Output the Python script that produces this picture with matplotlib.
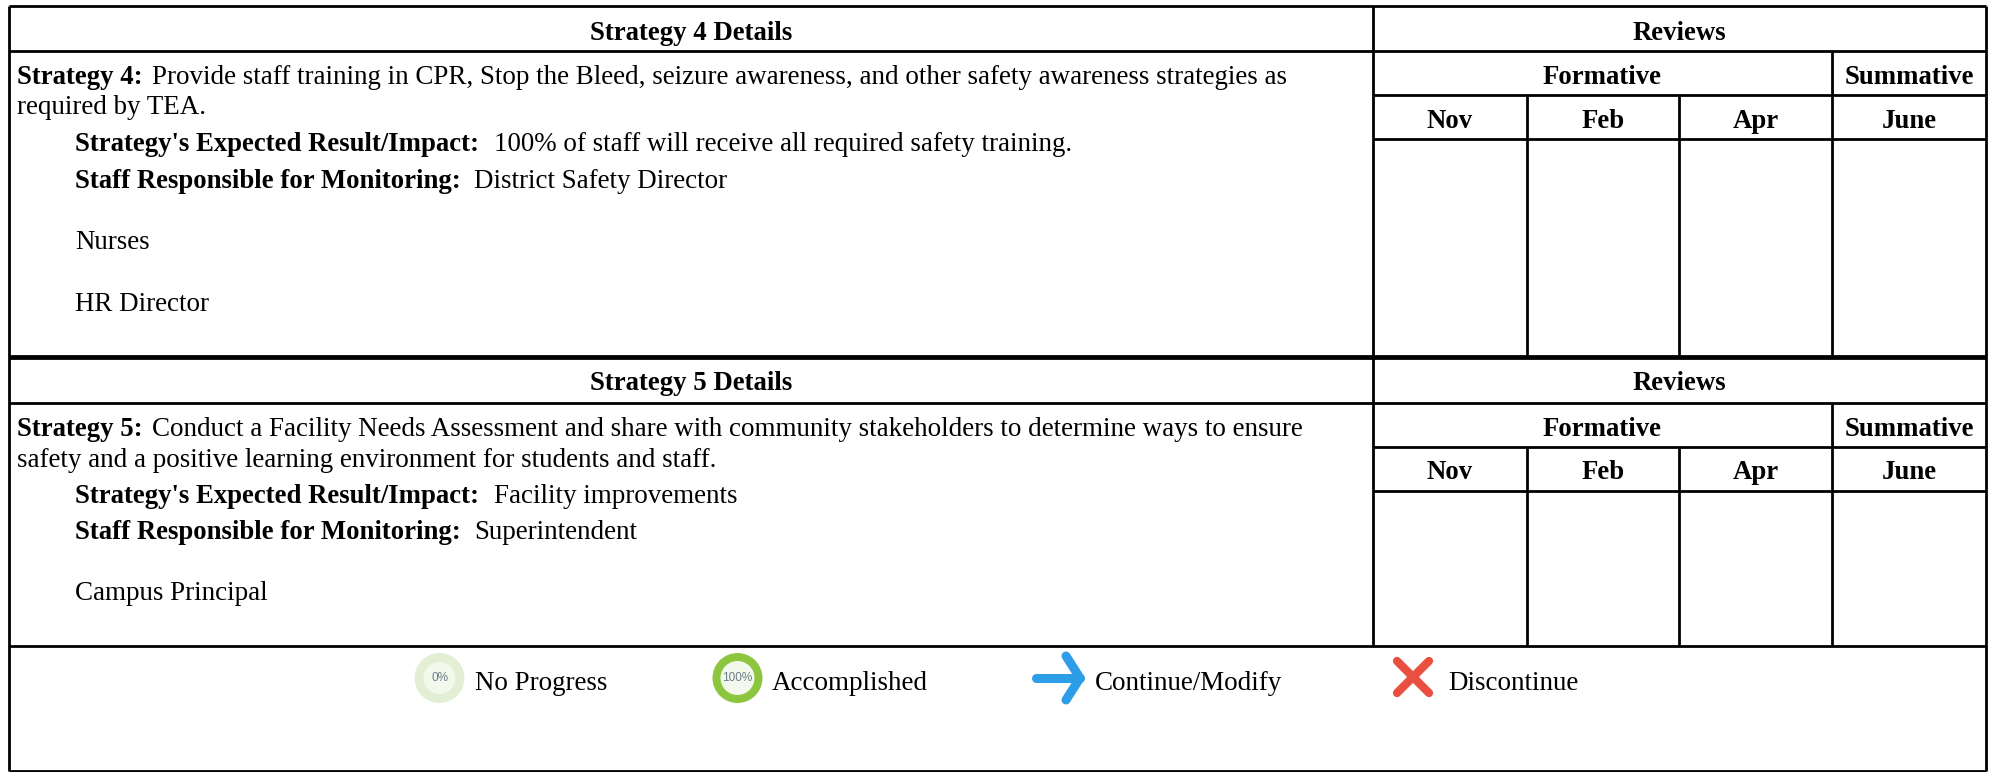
import matplotlib
matplotlib.use("Agg")
import matplotlib.pyplot as plt
from matplotlib.patches import Circle

# table text
review_title = "Reviews"
formative = "Formative"
summative = "Summative"
months = ["Nov", "Feb", "Apr", "June"]
detail_titles = ["Strategy 4 Details", "Strategy 5 Details"]
strategy_labels = ["Strategy 4:", "Strategy 5:"]
strategy_first = [
    "Provide staff training in CPR, Stop the Bleed, seizure awareness, and other safety awareness strategies as",
    "Conduct a Facility Needs Assessment and share with community stakeholders to determine ways to ensure",
]
strategy_second = ["required by TEA.", "safety and a positive learning environment for students and staff."]
impact_label = "Strategy's Expected Result/Impact:"
impacts = ["100% of staff will receive all required safety training.", "Facility improvements"]
staff_label = "Staff Responsible for Monitoring:"
staff_first = ["District Safety Director", "Superintendent"]
staff_rest = [["Nurses", "HR Director"], ["Campus Principal"]]
legend_labels = ["No Progress", "Accomplished", "Continue/Modify", "Discontinue"]
ring_labels = ["0%", "100%"]

W, H = 1995, 772
FS_BOLD = 19.25
FS_BODY = 19.45
FS_LEGEND = 19.45
plt.rcParams["font.family"] = ["Liberation Serif", "DejaVu Serif"]

fig = plt.figure(figsize=(W / 100, H / 100), dpi=100)
ax = fig.add_axes([0, 0, 1, 1])
ax.set_xlim(0, W)
ax.set_ylim(H, 0)
ax.axis("off")

X = [9, 1373, 1527, 1679, 1832, 1986]
LW = 2.0


def hline(y, x0=X[0], x1=X[5], lw=LW):
    ax.plot([x0, x1], [y, y], color="black", lw=lw, solid_capstyle="butt")


def vline(x, y0, y1, lw=LW):
    ax.plot([x, x], [y0, y1], color="black", lw=lw, solid_capstyle="butt")


def put(x, y, s, bold=False, ha="left", size=None):
    if size is None:
        size = FS_BOLD if bold else FS_BODY
    return ax.text(x, y, s, fontsize=size, ha=ha, va="baseline", color="black",
                   fontweight="bold" if bold else "normal")


def section(i, top, bottom, head_y, body_y):
    r1, r2, r3 = top + 45, top + 89, top + 133
    hline(top)
    hline(r1)
    hline(r2, X[1], X[5])
    hline(r3, X[1], X[5])
    hline(bottom)
    vline(X[1], top, bottom)
    vline(X[2], r2, bottom)
    vline(X[3], r2, bottom)
    vline(X[4], r1, bottom)
    put((X[0] + X[1]) / 2, top + head_y[0], detail_titles[i], bold=True, ha="center")
    put((X[1] + X[5]) / 2, top + head_y[0], review_title, bold=True, ha="center")
    put((X[1] + X[4]) / 2, top + head_y[1], formative, bold=True, ha="center")
    put((X[4] + X[5]) / 2, top + head_y[1], summative, bold=True, ha="center")
    for j, m in enumerate(months):
        put((X[j + 1] + X[j + 2]) / 2, top + head_y[2], m, bold=True, ha="center")

    put(17, top + body_y[0], strategy_labels[i], bold=True)
    put(152, top + body_y[0], strategy_first[i])
    put(17, top + body_y[1], strategy_second[i])
    put(75, top + body_y[2], impact_label, bold=True)
    put(494, top + body_y[2], impacts[i])
    put(75, top + body_y[3], staff_label, bold=True)
    put(474, top + body_y[3], staff_first[i])
    for k, s in enumerate(staff_rest[i]):
        put(75, top + body_y[4] + 62 * k, s)


section(0, 6, 356, (33.5, 78, 122), (77.5, 108.5, 145, 181.5, 243))
section(1, 358, 646, (32, 77.5, 121), (78, 109, 145, 181, 242))
vline(X[0], 6, 771)
vline(X[5], 6, 771)
hline(771)

# legend icons
ring_x = [439.5, 737.5]
ring_out = ["#e3efd5", "#8cc63f"]
ring_in = [16, 17]
for cx, col, r, lab in zip(ring_x, ring_out, ring_in, ring_labels):
    ax.add_patch(Circle((cx, 678), 25, color=col, lw=0))
    ax.add_patch(Circle((cx, 678), r, color="#f2f8ec", lw=0))
    ax.text(cx, 678, lab, fontsize=8.5, ha="center", va="center", color="#6b7c88",
            family=["Liberation Sans", "DejaVu Sans"])

blue = "#2d9de8"
ax.plot([1036, 1080], [678, 678], color=blue, lw=6.5, solid_capstyle="round")
ax.plot([1066, 1080, 1066], [656, 678, 700], color=blue, lw=6.5,
        solid_capstyle="round", solid_joinstyle="round")

red = "#e9503f"
ax.plot([1397, 1429], [661, 693], color=red, lw=6, solid_capstyle="round")
ax.plot([1397, 1429], [693, 661], color=red, lw=6, solid_capstyle="round")

for x, s in zip([475, 772, 1095, 1448], legend_labels):
    put(x, 690, s, size=FS_LEGEND)

fig.savefig("out.png", dpi=100, facecolor="white")
